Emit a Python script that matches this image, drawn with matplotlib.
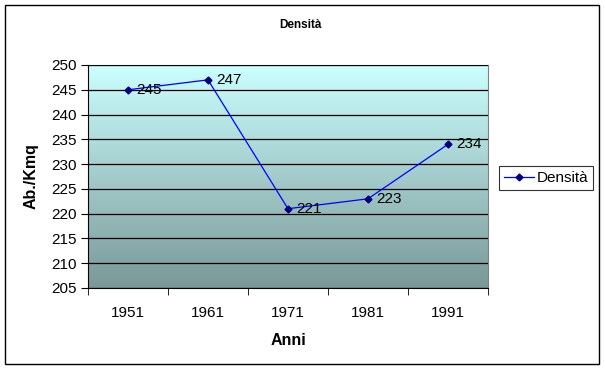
import numpy as np
import matplotlib
matplotlib.use("Agg")
import matplotlib.pyplot as plt
from matplotlib.colors import LinearSegmentedColormap
from matplotlib.patches import Rectangle

plt.rcParams['font.family'] = ['Liberation Sans', 'DejaVu Sans']

anni = ["1951", "1961", "1971", "1981", "1991"]
densita = [245, 247, 221, 223, 234]
y_ticks = list(range(205, 251, 5))

fig = plt.figure(figsize=(6.05, 3.70), dpi=100)
ax = fig.add_axes([88 / 605, 82 / 370, 400 / 605, 223 / 370])

# sfondo sfumato dell'area del grafico
cmap = LinearSegmentedColormap.from_list("sfondo", ["#7A9898", "#CCFFFF"])
grad = np.linspace(0, 1, 256).reshape(-1, 1)
ax.imshow(grad, cmap=cmap, aspect="auto", origin="lower",
          extent=[0, 1, 0, 1], transform=ax.transAxes, zorder=0)

x = np.arange(len(anni))
ax.plot(x, densita, color="#0000FF", lw=0.9, marker="D", markersize=3.5,
        markerfacecolor="#000080", markeredgecolor="#000080",
        label="Densità", zorder=3)
for xi, v in zip(x, densita):
    ax.annotate(str(v), (xi, v), xytext=(6, 0), textcoords="offset points",
                va="center", ha="left", fontsize=11, zorder=4)

ax.set_xlim(-0.5, len(anni) - 0.5)
ax.set_ylim(205, 250)
ax.set_yticks(y_ticks)
ax.set_xticks(x)
ax.set_xticklabels(anni)
ax.set_xticks(np.arange(-0.5, len(anni)), minor=True)
ax.tick_params(axis="x", which="major", length=0, pad=13, labelsize=11)
ax.tick_params(axis="x", which="minor", length=5, direction="out")
ax.tick_params(axis="y", length=5, direction="out", labelsize=11, pad=3)
ax.grid(axis="y", color="black", lw=0.9, zorder=1)
ax.set_axisbelow(False)

for s in ["top", "right"]:
    ax.spines[s].set_color("#808080")
for s in ["left", "bottom"]:
    ax.spines[s].set_color("black")

ax.set_xlabel("Anni", fontsize=11.5, fontweight="bold", labelpad=9)
ax.set_ylabel("Ab./Kmq", fontsize=11.5, fontweight="bold", labelpad=9)
fig.text(300 / 605, 1 - 25 / 370, "Densità", ha="center", va="center",
         fontsize=8.5, fontweight="bold")

leg = ax.legend(loc="center left", bbox_to_anchor=(499 / 605, 1 - 178 / 370),
                bbox_transform=fig.transFigure, frameon=True, fancybox=False,
                fontsize=11, handlelength=2.0, borderpad=0.3, handletextpad=0.2,
                borderaxespad=0)
leg.get_frame().set_edgecolor("black")
leg.get_frame().set_linewidth(0.8)

# cornice esterna
fig.patches.append(Rectangle((5 / 605, 6 / 370), 594 / 605, 359 / 370,
                             transform=fig.transFigure, fill=False,
                             edgecolor="black", lw=1))

fig.savefig("out.png", dpi=100)
